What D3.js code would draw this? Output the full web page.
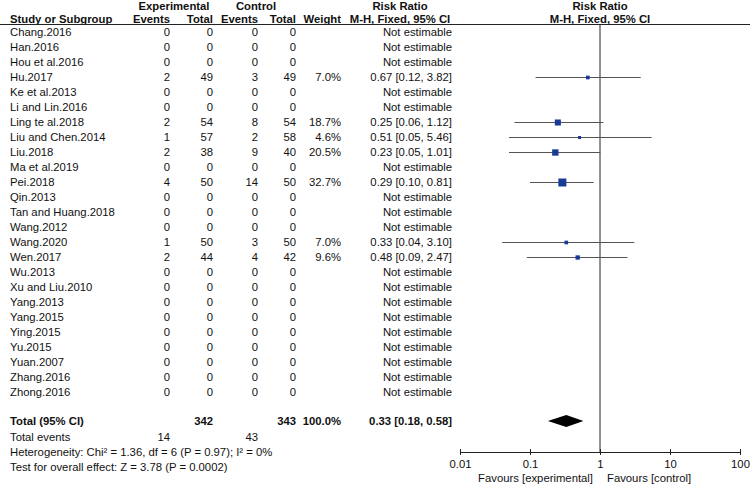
<!DOCTYPE html>
<html>
<head>
<meta charset="utf-8">
<script src="https://cdn.jsdelivr.net/npm/d3@7"></script>
<style>
  body { margin: 0; background: #fff; }
  svg text { font-family: "Liberation Sans", Arial, sans-serif; font-size: 11.3px; fill: #111; }
  svg text.b { font-weight: bold; }
</style>
</head>
<body>
<div id="chart"></div>
<script>
// Dados dos estudos
const studies = ["Chang.2016", "Han.2016", "Hou et al.2016", "Hu.2017", "Ke et al.2013", "Li and Lin.2016",
  "Ling te al.2018", "Liu and Chen.2014", "Liu.2018", "Ma et al.2019", "Pei.2018", "Qin.2013",
  "Tan and Huang.2018", "Wang.2012", "Wang.2020", "Wen.2017", "Wu.2013", "Xu and Liu.2010",
  "Yang.2013", "Yang.2015", "Ying.2015", "Yu.2015", "Yuan.2007", "Zhang.2016", "Zhong.2016"];
const expEvents = [0, 0, 0, 2, 0, 0, 2, 1, 2, 0, 4, 0, 0, 0, 1, 2, 0, 0, 0, 0, 0, 0, 0, 0, 0];
const expTotal = [0, 0, 0, 49, 0, 0, 54, 57, 38, 0, 50, 0, 0, 0, 50, 44, 0, 0, 0, 0, 0, 0, 0, 0, 0];
const ctrlEvents = [0, 0, 0, 3, 0, 0, 8, 2, 9, 0, 14, 0, 0, 0, 3, 4, 0, 0, 0, 0, 0, 0, 0, 0, 0];
const ctrlTotal = [0, 0, 0, 49, 0, 0, 54, 58, 40, 0, 50, 0, 0, 0, 50, 42, 0, 0, 0, 0, 0, 0, 0, 0, 0];
const weights = [null, null, null, 7.0, null, null, 18.7, 4.6, 20.5, null, 32.7, null, null, null, 7.0, 9.6,
  null, null, null, null, null, null, null, null, null];
const rr = [null, null, null, 0.67, null, null, 0.25, 0.51, 0.23, null, 0.29, null, null, null, 0.33, 0.48,
  null, null, null, null, null, null, null, null, null];
const ciLow = [null, null, null, 0.12, null, null, 0.06, 0.05, 0.05, null, 0.10, null, null, null, 0.04, 0.09,
  null, null, null, null, null, null, null, null, null];
const ciHigh = [null, null, null, 3.82, null, null, 1.12, 5.46, 1.01, null, 0.81, null, null, null, 3.10, 2.47,
  null, null, null, null, null, null, null, null, null];

// Resultado combinado
const pooled = { rr: 0.33, lo: 0.18, hi: 0.58 };
const totals = { expTotal: 342, ctrlTotal: 343, expEvents: 14, ctrlEvents: 43 };
const footer = ["Heterogeneity: Chi² = 1.36, df = 6 (P = 0.97); I² = 0%", "Test for overall effect: Z = 3.78 (P = 0.0002)"];
const axisTicks = [0.01, 0.1, 1, 10, 100];
const tickLabels = ["0.01", "0.1", "1", "10", "100"];

const width = 750, height = 484;
const svg = d3.select("#chart").append("svg").attr("width", width).attr("height", height);

// Colunas
const col = { study: 10, expEv: 170, expTot: 213, ctrlEv: 258, ctrlTot: 296, weight: 341, ci: 452 };
const y = d3.scaleLinear().domain([0, studies.length - 1]).range([32, 392]);
const x = d3.scaleLog().domain([0.01, 100]).range([460, 740]);
const boxSize = d3.scaleSqrt().domain([0, 32.7]).range([0, 8]);
const fmt = d3.format(".2f");

function txt(xx, yy, s, anchor, bold) {
  svg.append("text").attr("x", xx).attr("y", yy).attr("dy", "0.35em")
    .attr("text-anchor", anchor || "start").attr("class", bold ? "b" : null).text(s);
}

// Cabeçalho
txt(174, 6, "Experimental", "middle", true);
txt(256, 6, "Control", "middle", true);
txt(400, 6, "Risk Ratio", "middle", true);
txt(600, 6, "Risk Ratio", "middle", true);
txt(col.study, 19, "Study or Subgroup", "start", true);
txt(col.expEv, 19, "Events", "end", true);
txt(col.expTot, 19, "Total", "end", true);
txt(col.ctrlEv, 19, "Events", "end", true);
txt(col.ctrlTot, 19, "Total", "end", true);
txt(col.weight, 19, "Weight", "end", true);
txt(400, 19, "M-H, Fixed, 95% CI", "middle", true);
txt(600, 19, "M-H, Fixed, 95% CI", "middle", true);
svg.append("line").attr("x1", 0).attr("x2", width).attr("y1", 24.5).attr("y2", 24.5)
  .attr("stroke", "#222").attr("stroke-width", 1);

// Linhas dos estudos
studies.forEach((s, i) => {
  const yy = y(i);
  txt(col.study, yy, s);
  txt(col.expEv, yy, expEvents[i], "end");
  txt(col.expTot, yy, expTotal[i], "end");
  txt(col.ctrlEv, yy, ctrlEvents[i], "end");
  txt(col.ctrlTot, yy, ctrlTotal[i], "end");
  if (rr[i] == null) {
    txt(col.ci, yy, "Not estimable", "end");
  } else {
    txt(col.weight, yy, weights[i].toFixed(1) + "%", "end");
    txt(col.ci, yy, `${fmt(rr[i])} [${fmt(ciLow[i])}, ${fmt(ciHigh[i])}]`, "end");
  }
});

// Linha vertical de nulidade
svg.append("line").attr("x1", x(1)).attr("x2", x(1)).attr("y1", 24.5).attr("y2", 452)
  .attr("stroke", "#222").attr("stroke-width", 1);

// Intervalos e quadrados
const est = studies.map((s, i) => ({ i, rr: rr[i], lo: ciLow[i], hi: ciHigh[i], w: weights[i] }))
  .filter((d) => d.rr != null);
svg.selectAll("line.ci").data(est).enter().append("line").attr("class", "ci")
  .attr("x1", (d) => x(d.lo)).attr("x2", (d) => x(d.hi))
  .attr("y1", (d) => y(d.i) + 0.5).attr("y2", (d) => y(d.i) + 0.5)
  .attr("stroke", "#555").attr("stroke-width", 1.2);
svg.selectAll("rect.box").data(est).enter().append("rect").attr("class", "box")
  .attr("x", (d) => x(d.rr) - boxSize(d.w) / 2).attr("y", (d) => y(d.i) + 0.5 - boxSize(d.w) / 2)
  .attr("width", (d) => boxSize(d.w)).attr("height", (d) => boxSize(d.w))
  .attr("fill", "#1a3a98");

// Total
const yTot = 421;
txt(col.study, yTot, "Total (95% CI)", "start", true);
txt(col.expTot, yTot, totals.expTotal, "end", true);
txt(col.ctrlTot, yTot, totals.ctrlTotal, "end", true);
txt(col.weight, yTot, "100.0%", "end", true);
txt(col.ci, yTot, `${fmt(pooled.rr)} [${fmt(pooled.lo)}, ${fmt(pooled.hi)}]`, "end", true);
svg.append("path")
  .attr("d", `M${x(pooled.lo)},${yTot}L${x(pooled.rr)},${yTot - 6}L${x(pooled.hi)},${yTot}L${x(pooled.rr)},${yTot + 6}Z`)
  .attr("fill", "#000");

txt(col.study, 437, "Total events");
txt(col.expEv, 437, totals.expEvents, "end");
txt(col.ctrlEv, 437, totals.ctrlEvents, "end");
txt(col.study, 452, footer[0]);
txt(col.study, 467, footer[1]);

// Eixo
const axisY = 452;
const axis = d3.axisBottom(x).tickValues(axisTicks).tickFormat((d, i) => tickLabels[i])
  .tickSizeInner(3).tickSizeOuter(0).tickPadding(5);
const g = svg.append("g").attr("transform", `translate(0,${axisY})`).call(axis);
g.select(".domain").attr("stroke", "#222");
g.selectAll(".tick line").attr("y1", -3).attr("stroke", "#222");
g.selectAll(".tick text").attr("font-size", null).attr("font-family", null).attr("fill", "#111");
txt(593, 478, "Favours [experimental]", "end");
txt(607, 478, "Favours [control]", "start");
</script>
</body>
</html>
